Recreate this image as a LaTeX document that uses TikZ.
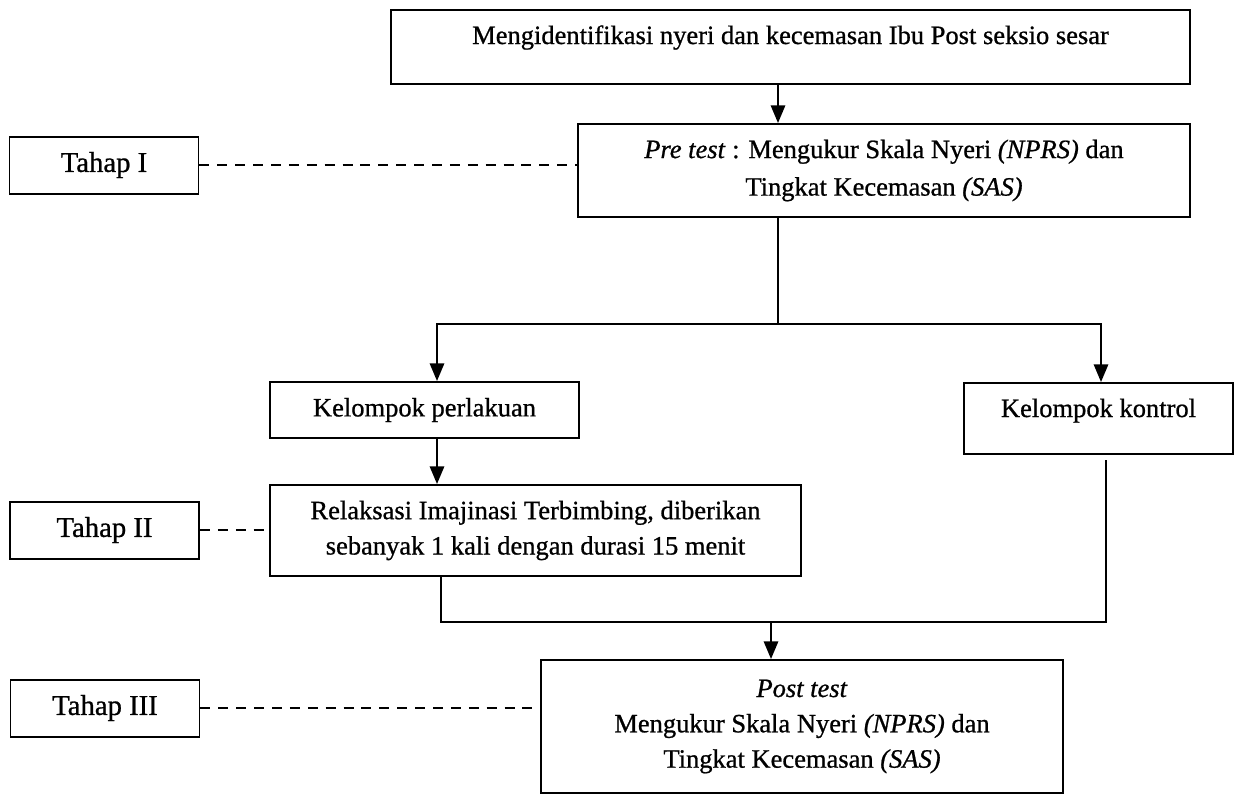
\documentclass[tikz,border=0pt]{standalone}
\usepackage{fontspec}
\setmainfont{Liberation Serif}[FakeBold=0.8]
\usetikzlibrary{arrows.meta,positioning}
\newcommand{\pxu}{0.01592cm}

\begin{document}
\begin{tikzpicture}
[x=\pxu, y=-\pxu, font=\fontsize{12}{16}\selectfont, draw=black, line width=0.9pt,
>={Triangle[length=8pt,width=6.5pt]},
box/.style={rectangle, draw, align=center, inner sep=0pt},
tahap/.style={box, font=\fontsize{13}{16}\selectfont, minimum width=189*\pxu, minimum height=57*\pxu},
link/.style={dash pattern=on 4.5pt off 3.6pt}]

\useasboundingbox (0,0) rectangle (1235,795);

\node[box, minimum width=799*\pxu, text height=34*\pxu, text depth=40*\pxu] (ident) at (790.5,47) {Mengidentifikasi nyeri dan kecemasan Ibu Post seksio sesar};
\node[box, minimum width=612*\pxu, minimum height=93*\pxu, font=\fontsize{12}{17}\selectfont] (pretest) at (884,170.5) {\textit{Pre test} : Mengukur Skala Nyeri \textit{(NPRS)} dan\\ Tingkat Kecemasan \textit{(SAS)}};
\node[box, minimum width=309*\pxu, minimum height=56*\pxu] (perlakuan) at (424.5,410) {Kelompok perlakuan};
\node[box, minimum width=269*\pxu, text height=34*\pxu, text depth=37*\pxu] (kontrol) at (1098.5,418.5) {Kelompok kontrol};
\node[box, minimum width=531*\pxu, minimum height=91*\pxu] (relaksasi) at (535.5,530.5) {Relaksasi Imajinasi Terbimbing, diberikan\\ sebanyak 1 kali dengan durasi 15 menit};
\node[box, minimum width=522*\pxu, minimum height=133*\pxu] (posttest) at (802,726.5) {\textit{Post test}\\ Mengukur Skala Nyeri \textit{(NPRS)} dan\\ Tingkat Kecemasan \textit{(SAS)}};

\node[tahap] (tahap1) at (104,165) {Tahap I};
\node[tahap] (tahap2) at (104.5,530) {Tahap II};
\node[tahap] (tahap3) at (105,708) {Tahap III};

% branch and merge points
\coordinate (split) at (778,324);
\coordinate (lbranch) at (437,324);
\coordinate (rbranch) at (1101,324);
\coordinate (rjoin) at (441,622);
\coordinate (kjoin) at (1106,622);
\coordinate (merge) at (771,622);

\draw[->] (ident.south -| split) -- (pretest.north -| split);
\draw (pretest.south -| split) -- (split);
\draw[->] (split) -- (lbranch) -- (perlakuan.north -| lbranch);
\draw[->] (split) -- (rbranch) -- (kontrol.north -| rbranch);
\draw[->] (perlakuan.south -| lbranch) -- (relaksasi.north -| lbranch);
\draw[shorten >=2.3pt] (relaksasi.south -| rjoin) -- (rjoin) -- (kjoin) -- (kontrol.south -| kjoin);
\draw[->] (merge) -- (posttest.north -| merge);

\draw[link] (tahap1.east) -- (tahap1.east -| pretest.west);
\draw[link] (tahap2.east) -- (tahap2.east -| relaksasi.west);
\draw[link] (tahap3.east) -- (tahap3.east -| posttest.west);
\end{tikzpicture}
\end{document}
